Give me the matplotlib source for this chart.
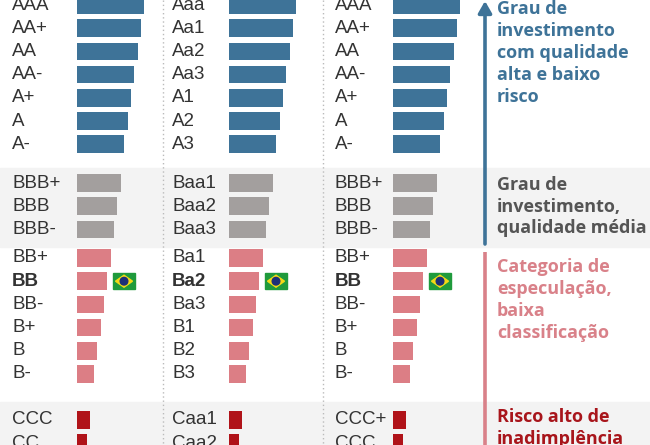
import matplotlib
matplotlib.use("Agg")
import matplotlib.pyplot as plt
from matplotlib.patches import Rectangle, Polygon, Circle

# ---------------- data ----------------
sp_labels = ["AAA", "AA+", "AA", "AA-", "A+", "A", "A-",
             "BBB+", "BBB", "BBB-",
             "BB+", "BB", "BB-", "B+", "B", "B-",
             "CCC", "CC"]
moody_labels = ["Aaa", "Aa1", "Aa2", "Aa3", "A1", "A2", "A3",
                "Baa1", "Baa2", "Baa3",
                "Ba1", "Ba2", "Ba3", "B1", "B2", "B3",
                "Caa1", "Caa2"]
fitch_labels = ["AAA", "AA+", "AA", "AA-", "A+", "A", "A-",
                "BBB+", "BBB", "BBB-",
                "BB+", "BB", "BB-", "B+", "B", "B-",
                "CCC+", "CCC"]
scores = [20, 19, 18, 17, 16, 15, 14,
          13, 12, 11,
          10, 9, 8, 7, 6, 5,
          4, 3]
groups = [0, 0, 0, 0, 0, 0, 0,
          1, 1, 1,
          2, 2, 2, 2, 2, 2,
          3, 3]
brazil_index = 11
group_texts = ["Grau de\ninvestimento\ncom qualidade\nalta e baixo\nrisco",
               "Grau de\ninvestimento,\nqualidade média",
               "Categoria de\nespeculação,\nbaixa\nclassificação",
               "Risco alto de\ninadimplência"]

# ---------------- style / layout ----------------
W, H = 650, 445
bar_colors = ["#3e7398", "#a39f9e", "#dc7e85", "#b01319"]
text_colors = ["#3e7398", "#555555", "#d98189", "#a8151b"]
group_start = [5, 183, 258, 420]
row_step = 23.2
group_text_first = [8.5, 185, 267, 417]
group_text_step = [22.0, 21.5, 22.0, 21.5]
band_color = "#f3f3f3"
label_x = [12, 172, 335]
bar_x = [77, 229, 393]
px_per_unit = 3.37
bar_h = 17.5

row_y = []
counters = {}
for g in groups:
    k = counters.get(g, 0)
    row_y.append(group_start[g] + k * row_step)
    counters[g] = k + 1

fig = plt.figure(figsize=(W / 100, H / 100), dpi=100)
ax = fig.add_axes([0, 0, 1, 1])
ax.set_xlim(0, W)
ax.set_ylim(H, 0)
ax.axis("off")

# background bands
ax.add_patch(Rectangle((0, 168), W, 247 - 168, color=band_color, zorder=0))
ax.add_patch(Rectangle((0, 402), W, H - 402 + 5, color=band_color, zorder=0))

# dotted dividers
for xd in [163, 323]:
    ax.plot([xd, xd], [0, H], linestyle=(0, (1, 2)), color="#bbbbbb", lw=1, zorder=1)

# columns of bars
for c, labels in enumerate([sp_labels, moody_labels, fitch_labels]):
    cax = fig.add_axes([bar_x[c] / W, 0, 80 / W, 1])
    cax.set_xlim(0, 80 / px_per_unit)
    cax.set_ylim(H, 0)
    cax.axis("off")
    cax.patch.set_alpha(0)
    cax.barh(row_y, scores, height=bar_h, left=0,
             color=[bar_colors[g] for g in groups], zorder=2)
    for i, lab in enumerate(labels):
        ax.text(label_x[c], row_y[i], lab, fontsize=13.5, family="Liberation Sans",
                color="#333333", va="center", ha="left",
                fontweight="bold" if i == brazil_index else "normal")
    # Brazil flag
    fx, fy = bar_x[c] + 36, row_y[brazil_index] - 8
    fw, fh = 22, 16
    ax.add_patch(Rectangle((fx, fy), fw, fh, color="#1f9a3c", zorder=3))
    ax.add_patch(Polygon([(fx + 2.5, fy + fh / 2), (fx + fw / 2, fy + 2),
                          (fx + fw - 2.5, fy + fh / 2), (fx + fw / 2, fy + fh - 2)],
                         closed=True, color="#f3d916", zorder=4))
    ax.add_patch(Circle((fx + fw / 2, fy + fh / 2), 3.8, color="#1c2f78", zorder=5))

# category lines
ax.annotate("", xy=(485, 1), xytext=(485, 244),
            arrowprops=dict(arrowstyle="-|>,head_length=0.7,head_width=0.4",
                            color="#3e7398", lw=2.6, shrinkA=0, shrinkB=0))
ax.plot([485, 485], [252, H + 5], color="#d98189", lw=2.6, solid_capstyle="butt")

# category texts
for g, txt in enumerate(group_texts):
    for j, line in enumerate(txt.split("\n")):
        ax.text(497, group_text_first[g] + j * group_text_step[g], line,
                fontsize=13, family="Open Sans", fontweight="bold",
                color=text_colors[g], va="center", ha="left")

fig.savefig("out.png", dpi=100)
